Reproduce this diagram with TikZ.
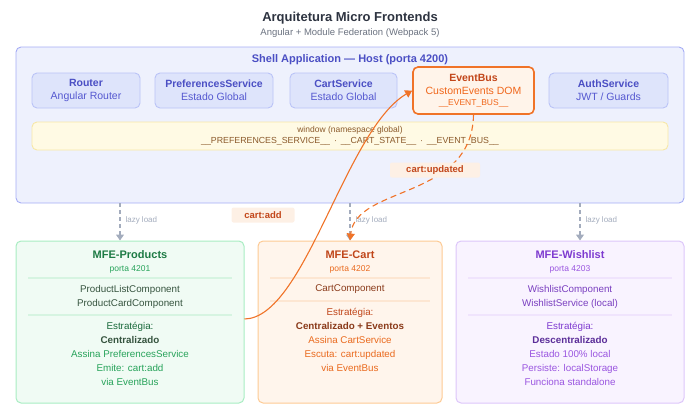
\documentclass[tikz,border=0pt]{standalone}
\usepackage{fontspec}
\setmainfont{Liberation Sans}
\usetikzlibrary{arrows.meta}

\definecolor{titlegray}{HTML}{2D3340}
\definecolor{subgray}{HTML}{6B7280}
\definecolor{shellfill}{HTML}{EEF1FD}
\definecolor{shelldraw}{HTML}{A5ACF5}
\definecolor{shelltext}{HTML}{4B4FC4}
\definecolor{svcfill}{HTML}{DEE4FB}
\definecolor{svcdraw}{HTML}{BAC3F7}
\definecolor{svcsub}{HTML}{5558D0}
\definecolor{busdraw}{HTML}{F07328}
\definecolor{busfill}{HTML}{FFF4EA}
\definecolor{busdark}{HTML}{C2461A}
\definecolor{busorange}{HTML}{F0661A}
\definecolor{winfill}{HTML}{FFFAE4}
\definecolor{windraw}{HTML}{F7E7A6}
\definecolor{wintext}{HTML}{8B5A2B}
\definecolor{lazygray}{HTML}{A3ACBD}
\definecolor{tagfill}{HTML}{FDF0E5}
\definecolor{prodfill}{HTML}{F0FBF4}
\definecolor{proddraw}{HTML}{A8EDC2}
\definecolor{prodsep}{HTML}{D6F4E1}
\definecolor{prodtitle}{HTML}{1E7B45}
\definecolor{prodgreen}{HTML}{27A35A}
\definecolor{prodtext}{HTML}{36543F}
\definecolor{cartfill}{HTML}{FFF5EC}
\definecolor{cartdraw}{HTML}{FDCA94}
\definecolor{cartsep}{HTML}{FDE6D2}
\definecolor{carttitle}{HTML}{C0461A}
\definecolor{cartorange}{HTML}{EA6A1E}
\definecolor{carttext}{HTML}{8A3A1A}
\definecolor{wishfill}{HTML}{F9F3FF}
\definecolor{wishdraw}{HTML}{DDC6FA}
\definecolor{wishsep}{HTML}{F0E4FD}
\definecolor{wishtitle}{HTML}{7E3BD0}
\definecolor{wishpurple}{HTML}{9A55E0}
\definecolor{wishtext}{HTML}{7A3FC0}
\definecolor{wishdark}{HTML}{5B2D99}

\newcommand\fs[1]{\fontsize{#1}{14}\selectfont}

\begin{document}
\begin{tikzpicture}[x=1pt,y=-1pt,
  box/.style={rounded corners=5pt, line width=0.9pt, inner sep=0pt},
  svc/.style={box, draw=svcdraw, fill=svcfill, minimum height=35pt, align=center,
    font=\fontsize{10.5}{13}\selectfont, text=svcsub},
  mfe/.style={box, line width=1pt, minimum height=162pt},
  mfetitle/.style={font=\bfseries\fs{11}},
  porta/.style={font=\fs{8.5}},
  body/.style={align=center, font=\fontsize{9.8}{14}\selectfont},
  sepline/.style={line width=1.3pt},
  lazy/.style={draw=lazygray, line width=1.2pt, dash pattern=on 4pt off 3pt,
    -{Triangle[width=8pt,length=6pt]}},
  lazytext/.style={anchor=west, text=lazygray, font=\fs{8}},
  evt/.style={draw=busdraw, line width=1.1pt, -{Triangle[width=8pt,length=7pt]}},
  tag/.style={fill=tagfill, rounded corners=2pt, text=busdark, font=\bfseries\fs{9.5},
    minimum height=15pt, inner sep=0pt}]
\useasboundingbox (0,0) rectangle (700,418);

% titulo
\node[text=titlegray, font=\bfseries\fs{13}] (title) at (350,18) {Arquitetura Micro Frontends};
\node[text=subgray, font=\fs{9.5}] (subtitle) at (350,33) {Angular + Module Federation (Webpack 5)};

% shell
\node[box, draw=shelldraw, fill=shellfill, minimum width=668pt, minimum height=156pt] (shell) at (350,125) {};
\node[text=shelltext, font=\bfseries\fs{11}] (shelltitle) at (350,60) {Shell Application — Host (porta 4200)};

\node[svc, minimum width=108pt] (router) at (86,90.5) {\textbf{\color{shelltext}Router}\\Angular Router};
\node[svc, minimum width=118pt] (prefs) at (214,90.5) {\textbf{\color{shelltext}PreferencesService}\\Estado Global};
\node[svc, minimum width=107pt] (cartsvc) at (343.5,90.5) {\textbf{\color{shelltext}CartService}\\Estado Global};
\node[box, draw=busdraw, fill=busfill, line width=1.6pt, minimum width=121pt, minimum height=47pt,
  align=center, font=\fontsize{10.5}{13}\selectfont, text=busorange] (bus) at (473.5,90.5)
  {\textbf{\color{busdark}EventBus}\\CustomEvents DOM\\[-1.5pt]{\fs{8.5}\_\_EVENT\_BUS\_\_}};
\node[svc, minimum width=119pt] (auth) at (608.5,90.5) {\textbf{\color{shelltext}AuthService}\\JWT / Guards};

\node[box, draw=windraw, fill=winfill, minimum width=636pt, minimum height=28pt, align=center,
  text=wintext, font=\fontsize{8.5}{11}\selectfont] (window) at (350,136)
  {window (namespace global)\\{\fs{8.8}\_\_PREFERENCES\_SERVICE\_\_ \,·\, \_\_CART\_STATE\_\_ \,·\, \_\_EVENT\_BUS\_\_}};

% micro frontends
\node[mfe, draw=proddraw, fill=prodfill, minimum width=228pt] (prod) at (130,322) {};
\node[mfe, draw=cartdraw, fill=cartfill, minimum width=184pt] (cart) at (350,322) {};
\node[mfe, draw=wishdraw, fill=wishfill, minimum width=228pt] (wish) at (570,322) {};

\node[mfetitle, text=prodtitle] (prodT) at (130,255) {MFE-Products};
\node[porta, text=prodgreen] (prodP) at (130,269) {porta 4201};
\draw[sepline, prodsep] (28,278) -- (232,278);
\node[body, text=prodtext] (prodC) at (130,296.5) {ProductListComponent\\ProductCardComponent};
\draw[sepline, prodsep] (28,315) -- (232,315);
\node[body, text=prodgreen] (prodS) at (130,354) {{\color{prodtitle!85!black}Estratégia:}\\
  \textbf{\color{prodtext}Centralizado}\\Assina PreferencesService\\Emite: cart:add\\via EventBus};

\node[mfetitle, text=carttitle] (cartT) at (350,255) {MFE-Cart};
\node[porta, text=cartorange] (cartP) at (350,269) {porta 4202};
\draw[sepline, cartsep] (270,278) -- (430,278);
\node[body, text=carttext] (cartC) at (350,289.5) {CartComponent};
\draw[sepline, cartsep] (270,301) -- (430,301);
\node[body, text=cartorange] (cartS) at (350,339.5) {{\color{carttitle}Estratégia:}\\
  \textbf{\color{carttext}Centralizado + Eventos}\\Assina CartService\\Escuta: cart:updated\\via EventBus};

\node[mfetitle, text=wishtitle] (wishT) at (570,255) {MFE-Wishlist};
\node[porta, text=wishpurple] (wishP) at (570,269) {porta 4203};
\draw[sepline, wishsep] (468,278) -- (672,278);
\node[body, text=wishtext] (wishC) at (570,296.5) {WishlistComponent\\WishlistService (local)};
\draw[sepline, wishsep] (468,315) -- (672,315);
\node[body, text=wishpurple] (wishS) at (570,354) {{\color{wishtitle}Estratégia:}\\
  \textbf{\color{wishdark}Descentralizado}\\Estado 100\% local\\Persiste: localStorage\\Funciona standalone};

% lazy load
\coordinate (l1) at (120,203);
\coordinate (l2) at (350,203);
\coordinate (l3) at (580,203);
\draw[lazy] (l1) -- (l1 |- prod.north);
\draw[lazy] (l2) -- (l2 |- cart.north);
\draw[lazy] (l3) -- (l3 |- wish.north);
\node[lazytext] (ll1) at (122,220) {lazy load};
\node[lazytext] (ll2) at (352,220) {lazy load};
\node[lazytext] (ll3) at (582,220) {lazy load};

% eventos
\draw[evt] ([yshift=3pt]prod.east) .. controls (305,318) and (345,130) .. (bus.west);
\draw[evt, dash pattern=on 6pt off 4pt] (bus.south) .. controls (472,200) and (356,185) .. (cart.north);
\node[tag, minimum width=90pt] (updated) at (435,170) {cart:updated};
\node[tag, minimum width=63pt] (add) at (263,215) {cart:add};
\end{tikzpicture}
\end{document}
